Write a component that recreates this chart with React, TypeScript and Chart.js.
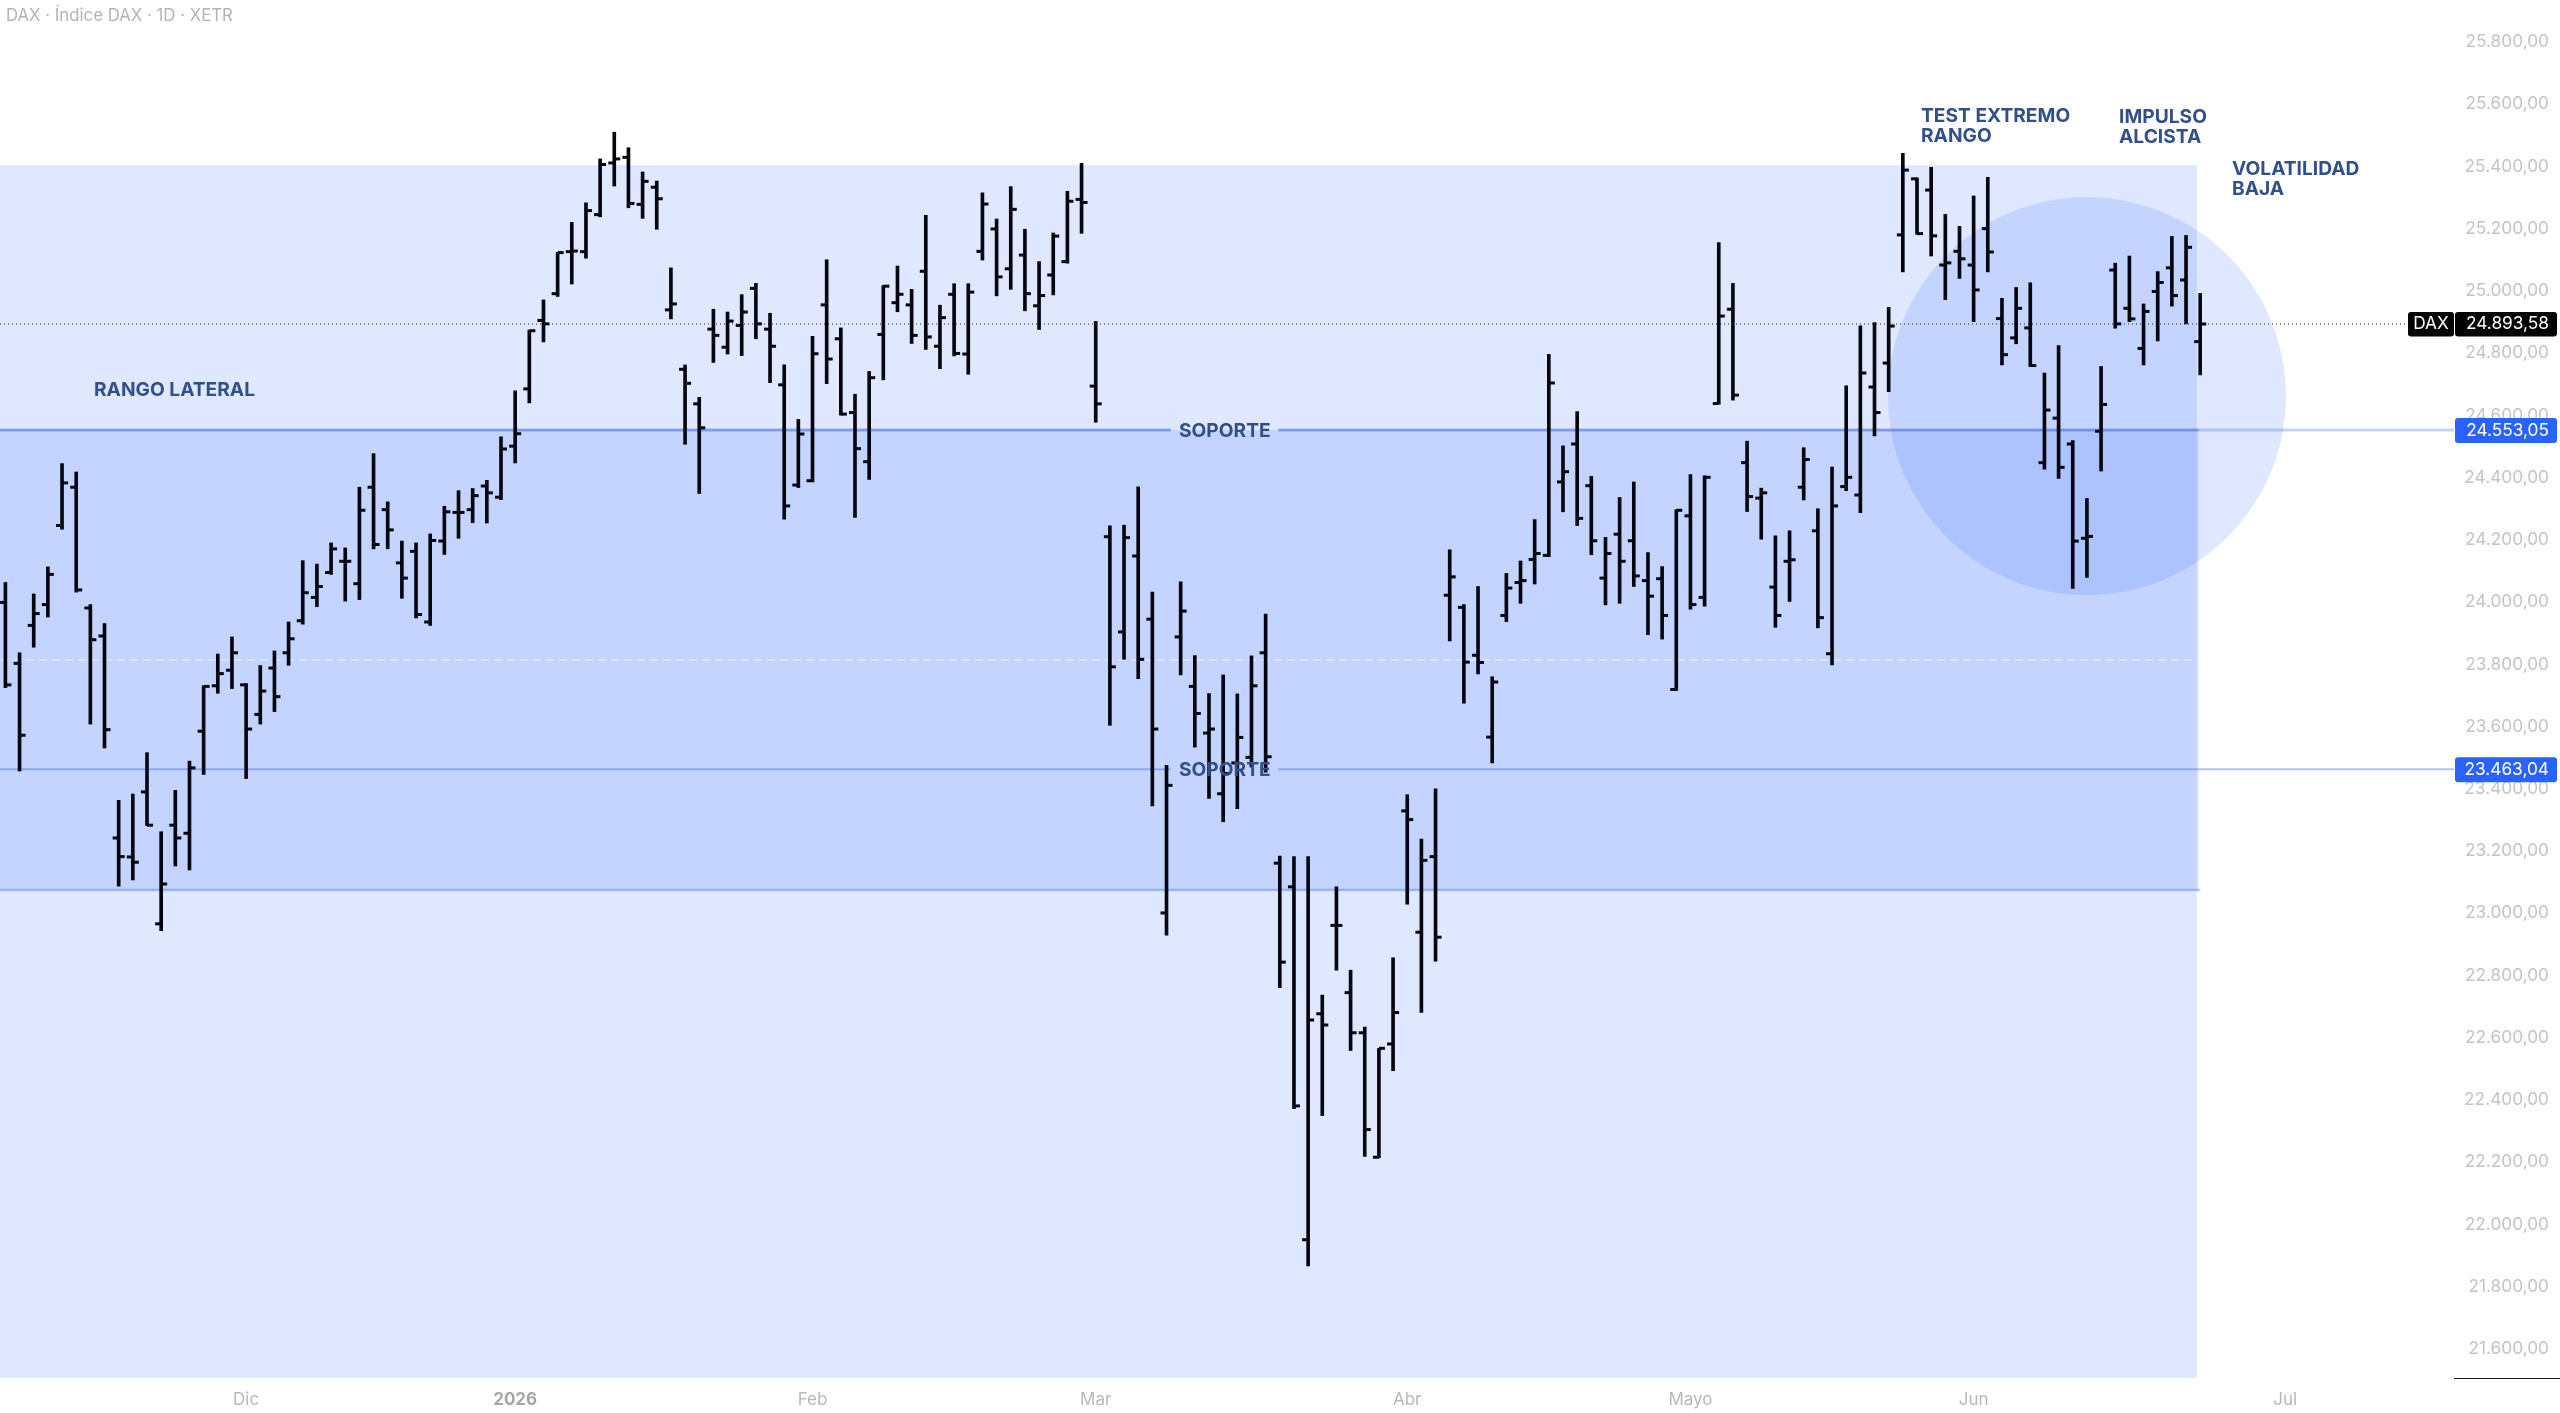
import React, { useEffect, useRef } from 'react';
import Chart from 'chart.js/auto';

// one entry per trading day, oldest first
const openPrices = [
  23999, 23803, 23925, 23992, 24246, 24369, 23981, 23891, 23242, 23181, 23390, 22966, 23283, 23257, 23585, 23731,
  23781, 23734, 23639, 23788, 23837, 23940, 24015, 24095, 24131, 24059, 24369, 24297, 24126, 24163, 23936, 24196,
  24288, 24297, 24373, 24337, 24501, 24685, 24905, 24991, 25126, 25126, 25245, 25411, 25429, 25278, 25333, 24939,
  24748, 24637, 24877, 24819, 24889, 25008, 24877, 24698, 24376, 24390, 24955, 24846, 24609, 24451, 24860, 24962,
  24955, 25063, 24822, 24989, 24797, 25127, 25199, 25071, 25115, 24952, 25051, 25094, 25294, 24694, 24210, 23904,
  24148, 23945, 23001, 23888, 23729, 23579, 23384, 23483, 23501, 23837, 23161, 23085, 21951, 22677, 22961, 22745,
  22616, 22216, 22580, 23329, 22939, 23182, 24022, 23983, 23829, 23566, 23957, 24063, 24137, 24150, 24386, 24508,
  24374, 24077, 24218, 24197, 24069, 24075, 23719, 24277, 24015, 24638, 24941, 24448, 24334, 24048, 24131, 24369,
  24229, 23834, 24371, 24344, 24691, 24768, 25180, 25360, 25324, 25083, 25127, 25083, 25200, 24911, 24849, 24881,
  24448, 24591, 24508, 24205, 24549, 25067, 24944, 24815, 24998, 25074, 25035, 24837,
];
const highPrices = [
  24063, 23837, 24026, 24113, 24445, 24418, 23992, 23931, 23363, 23383, 23516, 23262, 23395, 23489, 23731, 23833,
  23888, 23738, 23796, 23843, 23936, 24133, 24122, 24190, 24174, 24369, 24477, 24322, 24196, 24190, 24219, 24308,
  24358, 24365, 24391, 24531, 24679, 24874, 24971, 25123, 25220, 25283, 25424, 25510, 25460, 25382, 25353, 25074,
  24762, 24658, 24941, 24932, 24988, 25024, 24928, 24762, 24587, 24854, 25100, 24881, 24668, 24741, 25017, 25080,
  25005, 25243, 24954, 25023, 25023, 25315, 25231, 25335, 25198, 25094, 25186, 25320, 25410, 24902, 24245, 24247,
  24370, 24032, 23475, 24065, 23828, 23706, 23766, 23705, 23827, 23961, 23184, 23182, 23182, 22737, 23085, 22817,
  22634, 22566, 22857, 23381, 23238, 23400, 24168, 23992, 24050, 23760, 24092, 24132, 24265, 24796, 24502, 24612,
  24404, 24208, 24336, 24386, 24159, 24114, 24296, 24410, 24406, 25155, 25024, 24517, 24366, 24213, 24229, 24496,
  24300, 24434, 24695, 24888, 24898, 24947, 25442, 25363, 25397, 25246, 25207, 25305, 25365, 24976, 25011, 25026,
  24736, 24824, 24519, 24333, 24757, 25089, 25112, 24958, 25062, 25175, 25178, 24992,
];
const lowPrices = [
  23725, 23457, 23855, 23952, 24234, 24032, 23608, 23531, 23087, 23107, 23282, 22944, 23152, 23139, 23446, 23707,
  23722, 23433, 23608, 23648, 23797, 23929, 23985, 24089, 24003, 24008, 24171, 24171, 24012, 23949, 23925, 24153,
  24205, 24255, 24254, 24329, 24447, 24640, 24836, 24982, 25022, 25105, 25238, 25337, 25267, 25233, 25198, 24910,
  24507, 24349, 24770, 24797, 24792, 24846, 24705, 24266, 24368, 24386, 24702, 24601, 24272, 24394, 24714, 24933,
  24831, 24812, 24750, 24791, 24732, 25099, 24984, 25005, 24936, 24876, 24987, 25089, 25185, 24578, 23604, 23816,
  23754, 23345, 22930, 23766, 23534, 23369, 23294, 23336, 23470, 23453, 22761, 22372, 21867, 22350, 22817, 22559,
  22219, 22214, 22494, 23029, 22681, 22846, 23875, 23675, 23769, 23483, 23937, 23996, 24058, 24146, 24290, 24246,
  24152, 23991, 23996, 24050, 23895, 23881, 23716, 23977, 23987, 24636, 24649, 24291, 24202, 23919, 24002, 24328,
  23917, 23798, 24358, 24287, 24534, 24676, 25061, 25182, 25112, 24972, 25040, 24901, 25061, 24762, 24830, 24757,
  24427, 24397, 24044, 24079, 24421, 24880, 24901, 24762, 24839, 24951, 24894, 24730,
];
const closePrices = [
  23734, 23572, 23963, 24089, 24383, 24039, 23879, 23590, 23182, 23164, 23283, 23094, 23242, 23467, 23729, 23770,
  23837, 23592, 23714, 23696, 23882, 24030, 24050, 24171, 24131, 24295, 24185, 24232, 24077, 23960, 24198, 24290,
  24288, 24342, 24351, 24492, 24541, 24872, 24894, 25123, 25128, 25258, 25406, 25424, 25281, 25352, 25296, 24958,
  24703, 24560, 24857, 24903, 24932, 24894, 24822, 24309, 24540, 24798, 24781, 24604, 24493, 24721, 25015, 24989,
  24857, 24852, 24914, 24799, 24996, 25279, 25045, 25262, 24991, 24985, 25176, 25288, 25284, 24637, 23792, 24207,
  23816, 23592, 23411, 23971, 23642, 23592, 23449, 23565, 23731, 23503, 22843, 22381, 22657, 22641, 22961, 22616,
  22305, 22566, 22681, 23301, 23170, 22923, 24081, 23807, 23806, 23743, 24045, 24069, 24156, 24704, 24419, 24269,
  24197, 24156, 24131, 24084, 24019, 23957, 24295, 23992, 24401, 24919, 24665, 24339, 24351, 23957, 24136, 24458,
  23950, 24309, 24401, 24736, 24609, 24887, 25388, 25184, 25177, 25090, 25103, 25003, 25125, 24795, 24944, 24760,
  24617, 24433, 24196, 24211, 24635, 24894, 24910, 24934, 25027, 24985, 25140, 24893.58,
];

const priceTicks = [
  21600, 21800, 22000, 22200, 22400, 22600, 22800, 23000, 23200, 23400, 23600, 23800, 24000, 24200, 24400, 24600,
  24800, 25000, 25200, 25400, 25600, 25800,
];
const monthLabels = ['Dic', '2026', 'Feb', 'Mar', 'Abr', 'Mayo', 'Jun', 'Jul'];
const monthBars = [17, 36, 57, 77, 99, 119, 139, 161];

const lastPrice = 24893.58;
const upperSupport = 24553.05;
const lowerSupport = 23463.04;
const midLevel = 23814;
const rangeTop = 25404;
const innerBottom = 23075;
const circleCentre = { x: 147, y: 24662 };

const xMin = -0.381;
const xMax = 172.924;
const yMin = 21506.6;
const yMax = 25934.7;
const boxEnd = 154.9;
const gapStart = 82.3;
const gapEnd = 89.9;

const ink = '#05060f';
const navy = '#31508a';
const uiFont = 'Inter';

const bars = openPrices.map((_, i) => i);
const fmt = (v: number) => v.toLocaleString('de-DE', { minimumFractionDigits: 2, maximumFractionDigits: 2 });

const gappedLine = (y: number, end: number) => [
  { x: xMin, y },
  { x: gapStart, y },
  { x: (gapStart + gapEnd) / 2, y: null },
  { x: gapEnd, y },
  { x: end, y },
];

const levelLine = (y: number, end: number, color: string, width: number, dash: number[] = []) => ({
  type: 'line',
  data: gappedLine(y, end),
  borderColor: color,
  borderWidth: width,
  borderDash: dash,
  pointRadius: 0,
  spanGaps: false,
  order: 4,
});

const notes = [
  { lines: ['RANGO LATERAL'], x: 94, y: 390 },
  { lines: ['SOPORTE'], x: 1179, y: 431 },
  { lines: ['SOPORTE'], x: 1179, y: 770 },
  { lines: ['TEST EXTREMO', 'RANGO'], x: 1921, y: 116.5 },
  { lines: ['IMPULSO', 'ALCISTA'], x: 2119, y: 117.5 },
  { lines: ['VOLATILIDAD', 'BAJA'], x: 2232, y: 169.5 },
];

const zonesPlugin = {
  id: 'zones',
  beforeDatasetsDraw(chart: any) {
    const { ctx, scales } = chart;
    const fill = (x2: number, top: number, bottom: number) => {
      const y1 = scales.y.getPixelForValue(top);
      const y2 = scales.y.getPixelForValue(bottom);
      ctx.fillStyle = 'rgba(41, 98, 255, 0.15)';
      ctx.fillRect(0, y1, scales.x.getPixelForValue(x2), y2 - y1);
    };
    fill(154.77, rangeTop, yMin);
    fill(boxEnd, upperSupport, innerBottom);
  },
};

const badge = (ctx: any, x: number, y: number, w: number, h: number, color: string, text: string, textX: number, align: any) => {
  ctx.fillStyle = color;
  ctx.beginPath();
  ctx.roundRect(x, y, w, h, 3);
  ctx.fill();
  ctx.fillStyle = '#ffffff';
  ctx.textAlign = align;
  ctx.textBaseline = 'middle';
  ctx.font = `400 17.3px ${uiFont}`;
  ctx.fillText(text, textX, y + h / 2);
};

const overlayPlugin = {
  id: 'overlay',
  afterDatasetsDraw(chart: any) {
    const { ctx } = chart;
    ctx.save();
    ctx.fillStyle = navy;
    ctx.font = `700 19.2px ${uiFont}`;
    ctx.textAlign = 'left';
    ctx.textBaseline = 'middle';
    notes.forEach(note => {
      note.lines.forEach((line, i) => ctx.fillText(line, note.x, note.y + i * 19.5));
    });
    ctx.restore();
  },
  afterDraw(chart: any) {
    const { ctx, scales } = chart;
    ctx.save();
    // price tags on the axis
    const lastY = scales.y.getPixelForValue(lastPrice);
    badge(ctx, 2408, lastY - 12, 46, 24.5, '#000000', 'DAX', 2431, 'center');
    badge(ctx, 2455, lastY - 12, 102, 24.5, '#000000', fmt(lastPrice), 2549, 'right');
    [upperSupport, lowerSupport].forEach(level => {
      const y = scales.y.getPixelForValue(level);
      badge(ctx, 2455, y - 12, 102, 25, '#2962ff', fmt(level), 2549, 'right');
    });
    ctx.strokeStyle = '#1a1a1a';
    ctx.lineWidth = 1;
    ctx.beginPath();
    ctx.moveTo(2454, chart.chartArea.bottom + 0.5);
    ctx.lineTo(2560, chart.chartArea.bottom + 0.5);
    ctx.stroke();
    ctx.fillStyle = '#b4b4b4';
    ctx.font = `400 16.8px ${uiFont}`;
    ctx.textAlign = 'left';
    ctx.textBaseline = 'middle';
    ctx.fillText('DAX · Índice DAX · 1D · XETR', 6, 16);
    ctx.restore();
  },
};

const App = () => {
  const canvasRef = useRef<HTMLCanvasElement | null>(null);

  useEffect(() => {
    const ctx = canvasRef.current?.getContext('2d') as any;
    const chart = new Chart(ctx, {
      type: 'bar',
      data: {
        datasets: [
          {
            type: 'bubble',
            data: [{ ...circleCentre, r: 199 }],
            backgroundColor: 'rgba(41, 98, 255, 0.15)',
            borderWidth: 0,
            order: 5,
          },
          levelLine(upperSupport, xMax, 'rgba(30, 80, 200, 0.25)', 3),
          levelLine(upperSupport, boxEnd, 'rgba(30, 80, 200, 0.28)', 2.5),
          levelLine(lowerSupport, xMax, 'rgba(30, 80, 200, 0.33)', 2),
          {
            type: 'line',
            data: [{ x: xMin, y: innerBottom }, { x: boxEnd + 0.1, y: innerBottom }],
            borderColor: 'rgba(30, 80, 200, 0.3)',
            borderWidth: 2.5,
            pointRadius: 0,
            order: 4,
          },
          {
            type: 'line',
            data: [{ x: xMin, y: midLevel }, { x: boxEnd, y: midLevel }],
            borderColor: 'rgba(255, 255, 255, 0.55)',
            borderWidth: 1.5,
            borderDash: [8, 5],
            pointRadius: 0,
            order: 4,
          },
          {
            type: 'line',
            data: [{ x: xMin, y: lastPrice }, { x: 169.7, y: lastPrice }],
            borderColor: 'rgba(0, 0, 0, 0.85)',
            borderWidth: 1,
            borderDash: [1, 3],
            pointRadius: 0,
            order: 3,
          },
          {
            type: 'bar',
            data: bars.map(i => ({ x: i, y: [lowPrices[i], highPrices[i]] })),
            backgroundColor: ink,
            barThickness: 3,
            grouped: false,
            order: 2,
          },
          {
            type: 'scatter',
            data: bars.map(i => ({ x: i, y: openPrices[i] })),
            pointStyle: 'dash',
            rotation: 180,
            radius: 6,
            borderColor: ink,
            borderWidth: 3,
            order: 1,
          },
          {
            type: 'scatter',
            data: bars.map(i => ({ x: i, y: closePrices[i] })),
            pointStyle: 'dash',
            rotation: 0,
            radius: 6,
            borderColor: ink,
            borderWidth: 3,
            order: 1,
          },
        ] as any,
      },
      options: {
        animation: false,
        responsive: false,
        devicePixelRatio: 1,
        events: [],
        layout: { autoPadding: false, padding: { right: 11 } },
        plugins: {
          legend: { display: false },
          tooltip: { enabled: false },
        },
        scales: {
          x: {
            type: 'linear',
            offset: false,
            min: xMin,
            max: xMax,
            grid: { display: false },
            border: { display: false },
            afterBuildTicks: (scale: any) => {
              scale.ticks = monthBars.map(value => ({ value }));
            },
            afterFit: (scale: any) => {
              scale.height = 35;
              scale.paddingLeft = 0;
              scale.paddingRight = 0;
            },
            ticks: {
              autoSkip: false,
              maxRotation: 0,
              padding: 4,
              color: (c: any) => (c.tick?.value === 36 ? '#a6a6a6' : '#b8b8b8'),
              font: (c: any) => ({
                family: uiFont,
                size: 17,
                weight: c.tick?.value === 36 ? 700 : 400,
              }),
              callback: (value: any) => monthLabels[monthBars.indexOf(value)],
            },
          },
          y: {
            type: 'linear',
            position: 'right',
            min: yMin,
            max: yMax,
            grid: { display: false },
            border: { display: false },
            afterBuildTicks: (scale: any) => {
              scale.ticks = priceTicks.map(value => ({ value }));
            },
            afterFit: (scale: any) => {
              scale.width = 95;
              scale.paddingTop = 0;
              scale.paddingBottom = 0;
            },
            ticks: {
              crossAlign: 'far',
              padding: 0,
              color: '#c4c4c4',
              font: { family: uiFont, size: 17.3 },
              callback: (value: any) => fmt(value),
            },
          },
        },
      } as any,
      plugins: [zonesPlugin, overlayPlugin],
    });

    return () => {
      chart.destroy();
    };
  }, [canvasRef]);

  return (
    <div style={{ position: 'absolute', left: 0, top: 0, width: 2560, height: 1413, background: '#ffffff' }}>
      <canvas ref={canvasRef} width={2560} height={1413} style={{ display: 'block' }} />
    </div>
  );
};

export default App;
